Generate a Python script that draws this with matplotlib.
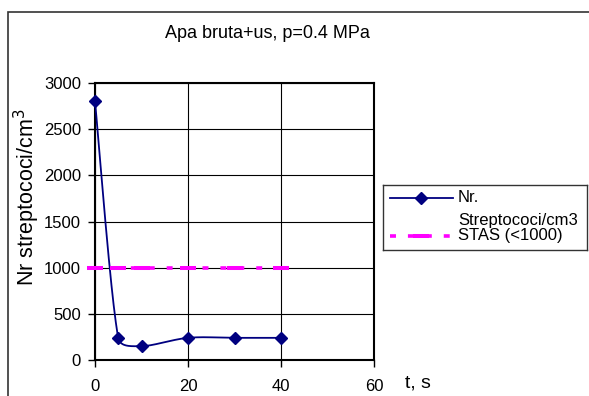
import numpy as np
import matplotlib
matplotlib.use("Agg")
import matplotlib.pyplot as plt
from matplotlib.lines import Line2D
from matplotlib.patches import Rectangle

plt.rcParams['font.family'] = ['Liberation Sans', 'DejaVu Sans']
plt.rcParams['lines.scale_dashes'] = False

# Data
t_s = [0, 5, 10, 20, 30, 40]
streptococi = [2800, 240, 150, 240, 240, 240]
stas_limit = [1000, 1000, 1000, 1000, 1000, 1000]
title = "Apa bruta+us, p=0.4 MPa"
legend_nr = ["Nr.", "Streptococi/cm3"]
legend_stas = "STAS (<1000)"
x_ticks = [0, 20, 40, 60]
y_ticks = [0, 500, 1000, 1500, 2000, 2500, 3000]

NAVY = "#000080"
MAGENTA = "#FF00FF"


def smooth_curve(ax, xs, ys, n=50, limit=0.4):
    """Bezier smoothing through the points, computed in display space with
    the control arms limited to a fraction of each segment length."""
    pts = ax.transData.transform(np.column_stack([xs, ys]))
    m = len(pts)
    out = []
    for i in range(m - 1):
        p0 = pts[max(i - 1, 0)]
        p1 = pts[i]
        p2 = pts[i + 1]
        p3 = pts[min(i + 2, m - 1)]
        seg = np.hypot(*(p2 - p1))
        t1 = (p2 - p0) / 6
        t2 = (p3 - p1) / 6
        for t in (t1, t2):
            L = np.hypot(*t)
            if L > limit * seg:
                t *= limit * seg / L
        c1 = p1 + t1
        c2 = p2 - t2
        u = np.linspace(0, 1, n)[:, None]
        b = (1 - u) ** 3 * p1 + 3 * (1 - u) ** 2 * u * c1 + 3 * (1 - u) * u ** 2 * c2 + u ** 3 * p2
        out.append(b)
    out = np.vstack(out)
    data = ax.transData.inverted().transform(out)
    return data[:, 0], data[:, 1]


fig = plt.figure(figsize=(5.89, 3.96), dpi=100)

# outer chart frame (runs off the right and bottom edges)
top = 1 - 12 / 396
fig.patches.append(Rectangle((8 / 589, -0.5), 1.5, top + 0.5,
                             transform=fig.transFigure, fill=False,
                             edgecolor="#333333", linewidth=1.2))

ax = fig.add_axes([95 / 589, 1 - 360 / 396, (374 - 95) / 589, (360 - 83) / 396])
ax.set_xlim(0, 60)
ax.set_ylim(0, 3000)
ax.set_xticks(x_ticks)
ax.set_yticks(y_ticks)
ax.tick_params(axis='both', direction='out', length=5, width=1, labelsize=12, pad=5)
ax.tick_params(axis='x', pad=9)
ax.grid(True, color="black", linewidth=0.8)
ax.set_axisbelow(True)
for sp in ax.spines.values():
    sp.set_linewidth(1.5)
    sp.set_color("black")

sx, sy = smooth_curve(ax, t_s, streptococi)
ax.plot(sx, sy, color=NAVY, linewidth=1.3, clip_on=False, zorder=3)
ax.plot(t_s, streptococi, linestyle="none", marker="D", markersize=6.5,
        color=NAVY, clip_on=False, zorder=4)

ax.plot(t_s, stas_limit, color=MAGENTA, linewidth=2.6, dashes=(4.3, 8.6),
        dash_capstyle="butt", zorder=3, clip_on=False)
ax.plot(t_s, stas_limit, linestyle="none", marker="_", markersize=11.5,
        markeredgewidth=2.9, color=MAGENTA, zorder=3, clip_on=False)

fig.text(267 / 589, 1 - 34 / 396, title, ha="center", va="center", fontsize=13)
fig.text(27 / 589, 1 - 197 / 396, "Nr streptococi/cm$^3$", rotation=90,
         ha="center", va="center", fontsize=15.5)
fig.text(405 / 589, 1 - 383 / 396, "t, s", ha="left", va="center", fontsize=14)

# legend box
lax = fig.add_axes([383 / 589, 1 - 250 / 396, (587 - 383) / 589, (250 - 185) / 396])
lax.set_xlim(0, 204)
lax.set_ylim(65, 0)
lax.set_xticks([])
lax.set_yticks([])
for sp in lax.spines.values():
    sp.set_color("#333333")
    sp.set_linewidth(1.0)
lax.add_line(Line2D([7, 70], [13, 13], color=NAVY, linewidth=1.3))
lax.add_line(Line2D([38], [13], marker="D", markersize=6.5, color=NAVY))
lax.add_line(Line2D([7, 70], [51, 51], color=MAGENTA, linewidth=2.6,
                    dashes=(4.3, 8.6), dash_capstyle="butt"))
lax.add_line(Line2D([38], [51], marker="_", markersize=11.5,
                    markeredgewidth=2.9, color=MAGENTA))
lax.text(75, 13, legend_nr[0], ha="left", va="center", fontsize=12)
lax.text(75, 36, legend_nr[1], ha="left", va="center", fontsize=12)
lax.text(75, 51, legend_stas, ha="left", va="center", fontsize=12)

fig.savefig("out.png", dpi=100)
